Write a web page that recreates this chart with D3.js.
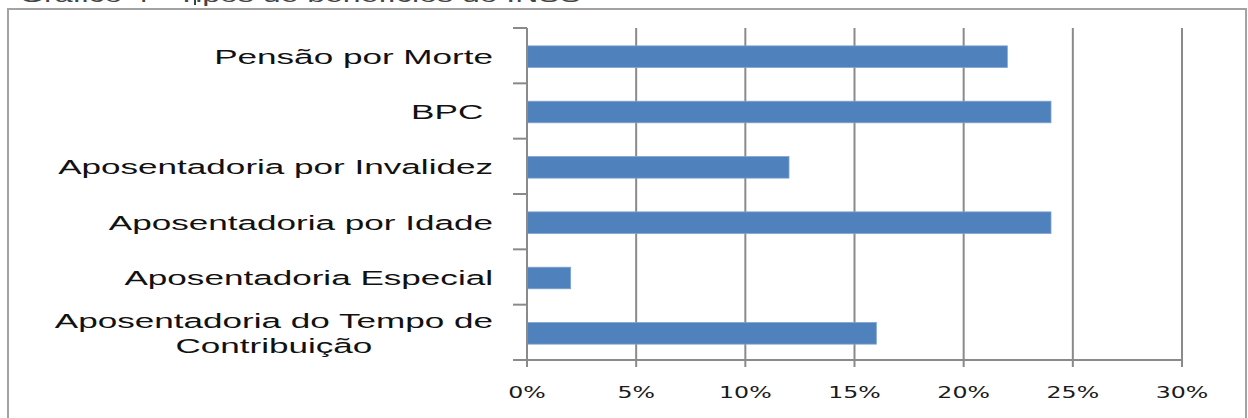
<!DOCTYPE html>
<html>
<head>
<meta charset="utf-8">
<script src="https://cdn.jsdelivr.net/npm/d3@7"></script>
<style>
  body { margin: 0; background: #fff; }
  svg { display: block; }
</style>
</head>
<body>
<div id="chart"></div>
<script>
"use strict"

const categories = [
  ["Pensão por Morte"],
  ["BPC "],
  ["Aposentadoria por Invalidez"],
  ["Aposentadoria por Idade"],
  ["Aposentadoria Especial"],
  ["Aposentadoria do Tempo de", "Contribuição"]
];
const values = [22, 24, 12, 24, 2, 16];
const tickValues = [0, 5, 10, 15, 20, 25, 30];
const titleText = "Gráfico 4 - Tipos de benefícios do INSS";

let margin = {top: 28, right: 66, bottom: 58, left: 527};
let totalW = 1248, totalH = 418;
let width = totalW - margin.left - margin.right,
    height = 360 - margin.top;

let svg = d3.select("#chart")
  .append("svg")
  .attr("width", totalW)
  .attr("height", totalH);

// title, cut off by the top edge as in the source
svg.append("text")
  .attr("x", 12)
  .attr("y", 1.5)
  .style("font-family", "'Liberation Sans', Arial, sans-serif")
  .style("font-size", "20px")
  .attr("transform", "scale(1.6,1)")
  .style("fill", "#444")
  .text(titleText);
svg.append("line")
  .attr("x1", 195).attr("x2", 195)
  .attr("y1", 0).attr("y2", 5)
  .style("stroke", "#000")
  .style("stroke-width", 1.5);

// outer frame
svg.append("rect")
  .attr("x", 8)
  .attr("y", 9)
  .attr("width", 1238)
  .attr("height", 420)
  .style("fill", "none")
  .style("stroke", "#a3a3a3")
  .style("stroke-width", 2);

let g = svg.append("g")
  .attr("transform", "translate(" + margin.left + "," + margin.top + ")");

let x = d3.scaleLinear()
  .domain([0, 30])
  .range([0, width]);

let y = d3.scaleBand()
  .domain(d3.range(categories.length))
  .range([0, height])
  .padding(0);

// vertical gridlines + ticks below axis
g.append("g")
  .selectAll("line")
  .data(tickValues)
  .enter()
  .append("line")
  .attr("x1", function(d) { return x(d); })
  .attr("x2", function(d) { return x(d); })
  .attr("y1", 0)
  .attr("y2", height + 7)
  .style("stroke", "#8a8a8a")
  .style("stroke-width", 2);

// category ticks on left
let catTicks = d3.range(categories.length + 1);
g.append("g")
  .selectAll("line")
  .data(catTicks)
  .enter()
  .append("line")
  .attr("x1", -14)
  .attr("x2", 0)
  .attr("y1", function(d) { return d < categories.length ? y(d) : height; })
  .attr("y2", function(d) { return d < categories.length ? y(d) : height; })
  .style("stroke", "#8a8a8a")
  .style("stroke-width", 2);

// bottom axis line
g.append("line")
  .attr("x1", -14)
  .attr("x2", width)
  .attr("y1", height)
  .attr("y2", height)
  .style("stroke", "#8a8a8a")
  .style("stroke-width", 2);

// bars
let barH = y.bandwidth() * 0.39;
g.append("g")
  .selectAll("rect")
  .data(values)
  .enter()
  .append("rect")
  .attr("x", x(0))
  .attr("y", function(d, i) { return y(i) + y.bandwidth() / 2 - barH / 2 + 1; })
  .attr("width", function(d) { return x(d) - x(0); })
  .attr("height", barH)
  .style("fill", "#4f81bd")
  .style("stroke", "#7ea3cf")
  .style("stroke-width", 0.8);

// left axis line
g.append("line")
  .attr("x1", 0)
  .attr("x2", 0)
  .attr("y1", 0)
  .attr("y2", height + 7)
  .style("stroke", "#8a8a8a")
  .style("stroke-width", 2);

// category labels (stretched horizontally like the source image)
let sx = 1.8;
let labelRight = -34;
let labels = g.append("g")
  .selectAll("text")
  .data(categories)
  .enter()
  .append("text")
  .style("font-family", "'Liberation Sans', Arial, sans-serif")
  .style("font-size", "19.5px")
  .style("fill", "#111")
  .style("white-space", "pre")
  .attr("transform", function(d, i) {
    return "translate(" + labelRight + "," + (y(i) + y.bandwidth() / 2) + ") scale(" + sx + ",1)";
  });

labels.each(function(d) {
  let t = d3.select(this);
  if (d.length === 1) {
    t.append("tspan")
      .attr("x", 0)
      .attr("y", 8)
      .attr("text-anchor", "end")
      .text(d[0]);
  } else {
    // two-line label, lines centred on each other
    let tmp = t.append("tspan").attr("x", 0).attr("y", -4).attr("text-anchor", "end").text(d[0]);
    let w = tmp.node().getComputedTextLength();
    tmp.remove();
    t.append("tspan")
      .attr("x", -w / 2)
      .attr("y", -4)
      .attr("text-anchor", "middle")
      .text(d[0]);
    t.append("tspan")
      .attr("x", -w / 2)
      .attr("y", 21)
      .attr("text-anchor", "middle")
      .text(d[1]);
  }
});

// x tick labels
g.append("g")
  .selectAll("text")
  .data(tickValues)
  .enter()
  .append("text")
  .attr("transform", function(d) {
    return "translate(" + x(d) + "," + (height + 38) + ") scale(1.48,1)";
  })
  .attr("text-anchor", "middle")
  .style("font-family", "'DejaVu Sans', Verdana, sans-serif")
  .style("font-size", "16px")
  .style("fill", "#1a1a1a")
  .text(function(d) { return d + "%"; });
</script>
</body>
</html>
